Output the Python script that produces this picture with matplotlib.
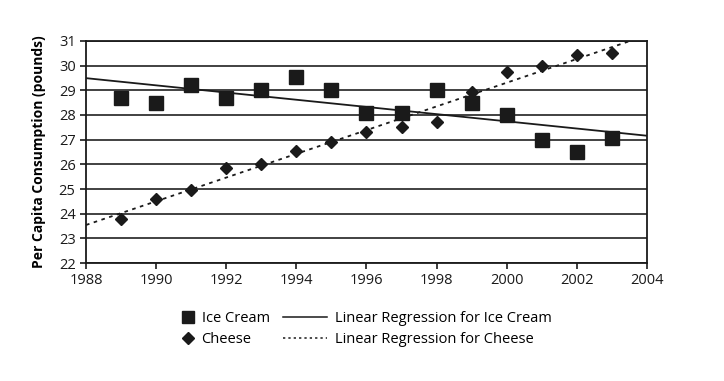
import numpy as np
import matplotlib
matplotlib.use("Agg")
import matplotlib.pyplot as plt
from matplotlib.lines import Line2D

plt.rcParams["font.family"] = ["Open Sans", "DejaVu Sans"]

years = [1989, 1990, 1991, 1992, 1993, 1994, 1995, 1996, 1997, 1998, 1999, 2000, 2001, 2002, 2003]
ice_cream = [28.7, 28.5, 29.2, 28.7, 29.0, 29.55, 29.0, 28.1, 28.1, 29.0, 28.5, 28.0, 27.0, 26.5, 27.05]
cheese = [23.8, 24.6, 24.95, 25.85, 26.0, 26.55, 26.9, 27.3, 27.5, 27.7, 28.95, 29.75, 30.0, 30.45, 30.5]
x_ticks = [1988, 1990, 1992, 1994, 1996, 1998, 2000, 2002, 2004]
y_ticks = list(range(22, 32))

fig = plt.figure(figsize=(7.24, 3.81), dpi=100)
ax = fig.add_axes([0.1188, 0.3097, 0.7748, 0.5827])

for y in y_ticks:
    ax.axhline(y, color="#333333", linewidth=1.3, zorder=1)

line_x = np.array([1988, 2004])
ice_fit = np.polyfit(years, ice_cream, 1)
cheese_fit = np.polyfit(years, cheese, 1)
ax.plot(line_x, np.polyval(ice_fit, line_x), color="#1a1a1a", linewidth=1.3, zorder=3)
ax.plot(line_x, np.polyval(cheese_fit, line_x), color="#1a1a1a", linewidth=1.3,
        linestyle=(0, (2, 2.5)), zorder=3)

ax.plot(years, ice_cream, linestyle="none", marker="s", markersize=10, color="#1a1a1a", zorder=4)
ax.plot(years, cheese, linestyle="none", marker="D", markersize=6, color="#1a1a1a", zorder=4)

ax.set_xlim(1988, 2004)
ax.set_ylim(22, 31)
ax.set_xticks(x_ticks)
ax.set_yticks(y_ticks)
ax.tick_params(axis="both", labelsize=10.5, colors="#1a1a1a", length=4, width=1.2, direction="out")
for side in ["left", "bottom", "right", "top"]:
    ax.spines[side].set_color("#1a1a1a")
    ax.spines[side].set_linewidth(1.3)
ax.set_ylabel("Per Capita Consumption (pounds)", fontsize=10, fontweight="bold", labelpad=9)

marker_handles = [
    Line2D([], [], linestyle="none", marker="s", markersize=9, color="#1a1a1a"),
    Line2D([], [], linestyle="none", marker="D", markersize=6, color="#1a1a1a"),
]
line_handles = [
    Line2D([], [], color="#1a1a1a", linewidth=1.1),
    Line2D([], [], color="#1a1a1a", linewidth=1.1, linestyle=(0, (1.5, 2))),
]
fig.legend(marker_handles, ["Ice Cream", "Cheese"], frameon=False, fontsize=10.5,
           loc="center left", bbox_to_anchor=(0.232, 0.136), handlelength=1.0,
           handletextpad=0.4, labelspacing=0.45)
fig.legend(line_handles, ["Linear Regression for Ice Cream", "Linear Regression for Cheese"],
           frameon=False, fontsize=10.5, loc="center left", bbox_to_anchor=(0.373, 0.136),
           handlelength=3.0, handletextpad=0.55, labelspacing=0.45)

fig.savefig("out.png", dpi=100)
